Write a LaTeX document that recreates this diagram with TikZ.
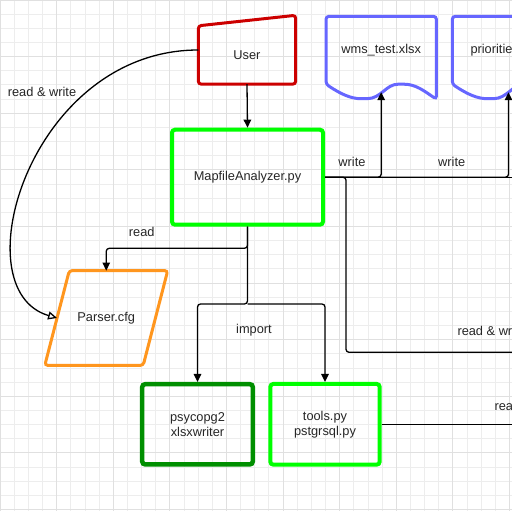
\documentclass[tikz,border=0pt]{standalone}
\usepackage{fontspec}
\setmainfont{Liberation Sans}
\usetikzlibrary{arrows.meta, calc}

\definecolor{userred}{RGB}{204,0,0}
\definecolor{pylime}{RGB}{0,255,0}
\definecolor{libgreen}{RGB}{0,143,0}
\definecolor{docblue}{RGB}{102,102,255}
\definecolor{cfgorange}{RGB}{255,150,30}

% wavy bottom of a document node
\newcommand{\docoutline}[1]{%
  \draw[outline, draw=docblue] (#1.south west)
    .. controls +(15pt,-10pt) and +(-13pt,0pt) .. ([shift={(38pt,-14.5pt)}]#1.south west)
    .. controls +(17pt,0pt) and +(-15pt,0pt) .. ([xshift=75pt]#1.south west)
    .. controls +(15pt,0pt) and +(-12pt,8pt) .. ([yshift=-15pt]#1.south east)
    -- (#1.north east) -- (#1.north west) -- cycle;}

\begin{document}
\begin{tikzpicture}[
    x=1pt, y=-1pt,
    font=\fontsize{12.8}{15}\selectfont,
    shapebox/.style={inner sep=0pt, align=center, text=black!85},
    outline/.style={rounded corners=3pt, line width=3pt},
    pybox/.style={shapebox, draw=pylime, line width=4pt, rounded corners=3pt},
    arr/.style={-{Triangle[length=8pt,width=7.5pt]}, line width=1.3pt, rounded corners=3pt},
    openarr/.style={-{Triangle[open,length=9pt,width=8pt,fill=white]}, line width=1.3pt},
    link/.style={line width=1.3pt, rounded corners=3pt},
    lbl/.style={inner sep=0pt, text=black!85},
    gridminor/.style={draw=black!7, line width=0.8pt},
    gridmajor/.style={draw=black!12, line width=0.8pt}
  ]
    \useasboundingbox (0,0) rectangle (512,511);
    \clip (0,0) rectangle (512,511);

    % Background grid
    \fill[white] (0,0) rectangle (512,511);
    \foreach \g in {0,...,36} {
      \draw[gridminor] ({\g*14.15},0) -- ({\g*14.15},511);
      \draw[gridminor] (0,{\g*14.15}) -- (512,{\g*14.15});
    }
    \foreach \g in {0,...,9} {
      \draw[gridmajor] ({\g*56.6},0) -- ({\g*56.6},511);
      \draw[gridmajor] (0,{\g*56.6}) -- (512,{\g*56.6});
    }

    % Shapes
    \node[shapebox, minimum width=97pt, minimum height=58pt] (user) at (247,55) {User};
    \draw[outline, draw=userred] (user.south west) -- (user.north west)
      -- ([yshift=10.5pt]user.north east) -- (user.south east) -- cycle;

    \node[pybox, minimum width=151pt, minimum height=95pt] (mapfile) at (247.5,177.2) {MapfileAnalyzer.py};

    \node[shapebox, minimum width=110pt, minimum height=67.5pt] (wms) at (381.2,50.25) {wms\_test.xlsx};
    \docoutline{wms}
    \node[shapebox, minimum width=110pt, minimum height=67.5pt] (prio) at (507.5,50.25) {priorities.xlsx};
    \docoutline{prio}

    \node[shapebox, minimum width=98pt, minimum height=94.4pt] (parser) at (106.25,318) {Parser.cfg};
    \draw[outline, draw=cfgorange] ([xshift=12.25pt]parser.north west) -- ([xshift=12.25pt]parser.north east)
      -- ([xshift=-12.25pt]parser.south east) -- ([xshift=-12.25pt]parser.south west) -- cycle;

    \node[pybox, draw=libgreen, line width=4.5pt, minimum width=110.6pt, minimum height=80.3pt]
      (psy) at (197.5,424.3) {psycopg2\\xlsxwriter};
    \node[pybox, minimum width=109.4pt, minimum height=80.7pt] (tools) at (325,424.3) {tools.py\\pstgrsql.py};

    % Helper points
    \coordinate (readlvl) at (0,248.3);
    \coordinate (implvl) at (0,304);
    \coordinate (wmsin) at ([yshift=-8pt]wms.south);
    \coordinate (prioin) at ([shift={(1pt,-8pt)}]prio.south);
    \coordinate (offright) at (530,177.2);
    \coordinate (rwcorner) at (346,352.3);
    \coordinate (rwout) at (530,352.3);
    \coordinate (toolsout) at (530,424.3);

    % Connectors
    \draw[arr] (user.south) -- (mapfile.north);
    \draw[openarr] (user.west |- 0,50) .. controls (30,50) and (-40,290) .. (parser.west);
    \draw[arr] (mapfile.south) -- (mapfile.south |- readlvl) -| (parser.north);
    \draw[arr] (mapfile.south) -- (mapfile.south |- implvl) -| (psy.north);
    \draw[arr] (mapfile.south |- implvl) -| (tools.north);
    \draw[arr] (mapfile.east) -| (wmsin);
    \draw[arr] (mapfile.east) -| (prioin);
    \draw[link] (mapfile.east) -- (offright);
    \draw[link] (mapfile.east) -| (rwcorner) -- (rwout);
    \draw[link] (tools.east) -- (toolsout);

    % Labels
    \node[lbl] (lrw) at (42,92) {read \& write};
    \node[lbl] (lread) at (141.7,231.7) {read};
    \node[lbl] (limport) at (254,330) {import};
    \node[lbl] (lwritea) at (352,161.7) {write};
    \node[lbl] (lwriteb) at (451.7,161.7) {write};
    \node[lbl, anchor=west] (lrwb) at (457.3,330.7) {read \& write};
    \node[lbl, anchor=west] (lreadb) at (494.3,406) {read};
  \end{tikzpicture}
\end{document}
